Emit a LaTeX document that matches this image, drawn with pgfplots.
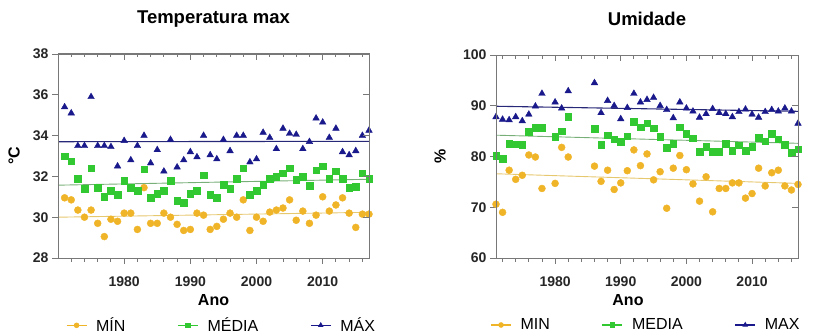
\documentclass[border=0pt]{standalone}
\usepackage{pgfplots}
\usepackage{pgfplotstable}
\pgfplotsset{compat=1.18}
\usepackage{fontspec}
\setmainfont{Liberation Sans}

\definecolor{cmin}{RGB}{240,180,40}
\definecolor{cmed}{RGB}{50,200,50}
\definecolor{cmax}{RGB}{25,25,140}
\definecolor{lmin}{RGB}{230,200,110}
\definecolor{lmed}{RGB}{120,175,120}
\definecolor{lmax}{RGB}{40,40,120}
\definecolor{frame}{RGB}{120,120,120}

\pgfplotstableread{
year mn md mx
1971 30.95 33.0 35.4
1972 30.85 32.75 35.1
1973 30.35 31.9 33.5
1974 30.0 31.4 33.5
1975 30.35 32.4 35.9
1976 29.7 31.45 33.5
1977 29.05 31.0 33.5
1978 29.9 31.3 33.45
1979 29.8 31.1 32.5
1980 30.2 31.8 33.75
1981 30.2 31.45 32.8
1982 29.4 31.3 33.5
1983 31.45 32.35 34.0
1984 29.7 30.95 32.65
1985 29.7 31.15 33.3
1986 30.2 31.3 32.25
1987 30.0 31.8 33.8
1988 29.65 30.8 32.45
1989 29.35 30.7 32.8
1990 29.4 31.15 33.2
1991 30.2 31.3 32.95
1992 30.1 32.05 34.0
1993 29.4 31.1 33.05
1994 29.55 30.95 32.85
1995 29.9 31.6 33.8
1996 30.2 31.4 33.25
1997 30.0 31.9 34.0
1998 30.85 32.4 34.0
1999 29.35 31.1 32.7
2000 30.0 31.3 32.85
2001 29.8 31.6 34.15
2002 30.25 31.9 33.9
2003 30.35 32.0 33.35
2004 30.45 32.15 34.35
2005 30.85 32.4 34.1
2006 29.85 31.85 34.05
2007 30.3 32.0 33.35
2008 29.7 31.55 33.7
2009 30.1 32.3 34.85
2010 31.0 32.5 34.65
2011 30.3 31.9 33.9
2012 30.6 32.25 34.35
2013 30.95 31.9 33.2
2014 30.2 31.45 33.05
2015 29.5 31.5 33.25
2016 30.15 32.15 34.0
2017 30.15 31.9 34.25
}\temp

\pgfplotstableread{
year mn md mx
1971 70.6 80.2 87.8
1972 69.0 79.6 87.3
1973 77.3 82.5 87.2
1974 75.5 82.4 87.8
1975 76.3 82.3 87.0
1976 80.3 84.9 88.3
1977 79.9 85.7 89.9
1978 73.7 85.7 92.4
1980 74.7 83.9 90.7
1981 81.8 85.0 89.5
1982 79.9 87.9 92.9
1986 78.1 85.5 94.5
1987 75.1 82.3 88.6
1988 77.3 84.2 91.0
1989 73.5 83.4 90.0
1990 74.8 82.9 87.4
1991 77.2 84.0 89.6
1992 81.3 86.8 92.4
1993 78.2 85.8 90.7
1994 80.5 86.6 91.2
1995 75.4 85.6 91.6
1996 77.0 83.9 90.0
1997 69.8 81.7 89.2
1998 77.7 82.5 87.6
1999 80.2 85.8 90.7
2000 77.4 84.5 89.5
2001 74.6 83.6 88.9
2002 71.2 80.9 87.7
2003 76.0 81.9 88.4
2004 69.1 80.9 89.4
2005 73.7 80.9 88.6
2006 73.7 82.5 88.4
2007 74.8 81.1 87.8
2008 74.8 82.2 88.8
2009 71.8 81.1 89.3
2010 72.7 81.9 88.3
2011 77.7 83.7 87.7
2012 74.2 83.0 88.8
2013 76.8 84.5 89.2
2014 77.3 83.4 88.9
2015 74.2 82.3 89.5
2016 73.4 80.7 88.9
2017 74.5 81.4 86.5
}\umid

\pgfplotsset{
  base/.style={
    scale only axis,
    anchor=south west,
    clip=false,
    axis line style={frame, line width=1pt},
    every tick/.style={frame, line width=0.9pt},
    major tick length=6pt,
    minor tick length=3.5pt,
    /pgf/number format/assume math mode=true,
    /pgf/number format/1000 sep={},
    tick label style={font=\bfseries\fontsize{14}{14}\selectfont, text=black!85},
    xticklabel style={yshift=-9pt},
    xtick={1980,1990,2000,2010},
    minor xtick={1972,1974,...,2016},
  },
  main/.style={
    base,
    tick align=outside,
    xtick pos=left, ytick pos=left,
    title style={font=\bfseries\fontsize{18.5}{18.5}\selectfont, at={(axis description cs:0.5,1)}, anchor=base, yshift=24pt},
    legend style={draw=none, fill=none, font=\fontsize{16}{16}\selectfont, legend columns=3,
      /tikz/every even column/.append style={column sep=50pt},
      /tikz/every odd column/.append style={column sep=7pt}},
    legend cell align=left,
    legend image code/.code={
      \draw[#1, line width=1.1pt, mark size=2.2pt, mark repeat=2, mark phase=2]
        plot coordinates {(0pt,0pt) (10pt,0pt) (20pt,0pt)};},
  },
  over/.style={
    base,
    tick align=inside,
    xtick pos=right, ytick pos=right,
    xticklabels={}, yticklabels={},
  },
}

\begin{document}
\begin{tikzpicture}[x=1pt,y=1pt]
\useasboundingbox (0,0) rectangle (821,335);

% ---------- Left: Temperatura max ----------
\begin{axis}[main,
  at={(58pt,77pt)}, width=311pt, height=204pt,
  xmin=1970, xmax=2017, ymin=28, ymax=38,
  ytick={28,30,...,38},
  title={Temperatura max},
  xlabel={Ano},
  every axis x label/.style={at={(axis description cs:0.5,-0.235)}, anchor=base, font=\bfseries\fontsize{16}{16}\selectfont},
  ylabel={°C},
  every axis y label/.style={at={(axis description cs:-0.1415,0.5)}, anchor=center, rotate=90, font=\bfseries\fontsize{16}{16}\selectfont},
  legend style={at={(axis description cs:0.5,-0.33)}, anchor=center, xshift=8pt},
]
\addplot[only marks, mark=*, mark size=3.5pt, color=cmin, forget plot] table[x=year,y=mn] {\temp};
\addplot[only marks, mark=square*, mark size=3.3pt, color=cmed, forget plot] table[x=year,y=md] {\temp};
\addplot[only marks, mark=triangle*, mark size=3.8pt, color=cmax, forget plot] table[x=year,y=mx] {\temp};
\addplot[lmin, line width=0.9pt, forget plot] coordinates {(1970,30.0) (2017,30.24)};
\addplot[lmed, line width=0.9pt, forget plot] coordinates {(1970,31.57) (2017,31.86)};
\addplot[lmax, line width=1.1pt, forget plot] coordinates {(1970,33.70) (2017,33.72)};
\addlegendimage{cmin, mark=*}
\addlegendentry{MÍN}
\addlegendimage{cmed, mark=square*}
\addlegendentry{MÉDIA}
\addlegendimage{cmax, mark=triangle*}
\addlegendentry{MÁX}
\end{axis}
\begin{axis}[over,
  at={(58pt,77pt)}, width=311pt, height=204pt,
  xmin=1970, xmax=2017, ymin=28, ymax=38,
  ytick={28,30,...,38},
]
\end{axis}

% ---------- Right: Umidade ----------
\begin{axis}[main,
  at={(496pt,77pt)}, width=302pt, height=203pt,
  xmin=1971, xmax=2017, ymin=60, ymax=100,
  ytick={60,70,...,100},
  title={Umidade},
  xlabel={Ano},
  every axis x label/.style={at={(axis description cs:0.437,-0.236)}, anchor=base, font=\bfseries\fontsize{16}{16}\selectfont},
  ylabel={\%},
  every axis y label/.style={at={(axis description cs:-0.185,0.5)}, anchor=center, rotate=90, font=\bfseries\fontsize{16}{16}\selectfont},
  legend style={at={(axis description cs:0.5,-0.33)}, anchor=center, xshift=-1pt},
]
\addplot[only marks, mark=*, mark size=3.5pt, color=cmin, forget plot] table[x=year,y=mn] {\umid};
\addplot[only marks, mark=square*, mark size=3.3pt, color=cmed, forget plot] table[x=year,y=md] {\umid};
\addplot[only marks, mark=triangle*, mark size=3.8pt, color=cmax, forget plot] table[x=year,y=mx] {\umid};
\addplot[lmin, line width=0.9pt, forget plot] coordinates {(1971,76.6) (2017,74.7)};
\addplot[lmed, line width=0.9pt, forget plot] coordinates {(1971,84.2) (2017,82.6)};
\addplot[lmax, line width=1.1pt, forget plot] coordinates {(1971,89.9) (2017,88.9)};
\addlegendimage{cmin, mark=*}
\addlegendentry{MIN}
\addlegendimage{cmed, mark=square*}
\addlegendentry{MEDIA}
\addlegendimage{cmax, mark=triangle*}
\addlegendentry{MAX}
\end{axis}
\begin{axis}[over,
  at={(496pt,77pt)}, width=302pt, height=203pt,
  xmin=1971, xmax=2017, ymin=60, ymax=100,
  ytick={60,70,...,100},
]
\end{axis}
\end{tikzpicture}
\end{document}
